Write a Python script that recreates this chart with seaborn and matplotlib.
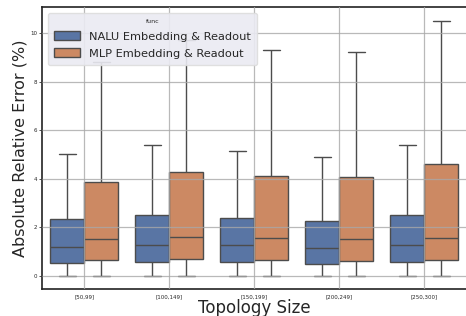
import numpy as np
import pandas as pd
import matplotlib
matplotlib.use("Agg")
import matplotlib.pyplot as plt
import seaborn as sns

categories = ["[50,99]", "[100,149]", "[150,199]", "[200,249]", "[250,300]"]
series = ["NALU Embedding & Readout", "MLP Embedding & Readout"]

# box statistics (percent)
nalu_lo = [0.0, 0.0, 0.0, 0.0, 0.0]
nalu_q1 = [0.53, 0.56, 0.55, 0.50, 0.55]
nalu_med = [1.20, 1.26, 1.25, 1.15, 1.25]
nalu_q3 = [2.33, 2.51, 2.40, 2.25, 2.50]
nalu_hi = [5.00, 5.40, 5.15, 4.90, 5.40]

mlp_lo = [0.0, 0.0, 0.0, 0.0, 0.0]
mlp_q1 = [0.65, 0.69, 0.65, 0.60, 0.65]
mlp_med = [1.51, 1.59, 1.55, 1.50, 1.56]
mlp_q3 = [3.88, 4.28, 4.10, 4.05, 4.60]
mlp_hi = [8.80, 9.70, 9.30, 9.20, 10.50]

rows = []
stats = {series[0]: (nalu_lo, nalu_q1, nalu_med, nalu_q3, nalu_hi),
         series[1]: (mlp_lo, mlp_q1, mlp_med, mlp_q3, mlp_hi)}
for name, (lo, q1, md, q3, hi) in stats.items():
    for i, cat in enumerate(categories):
        for v in (lo[i], q1[i], md[i], q3[i], hi[i]):
            rows.append({"Topology Size": cat, "func": name, "err": v})
df = pd.DataFrame(rows)

sns.set_theme(style="whitegrid")
plt.rcParams["font.family"] = ["DejaVu Sans"]

fig = plt.figure(figsize=(4.66, 3.16), dpi=100)
ax = fig.add_axes([0.09, 0.085, 0.912, 0.893])

sns.boxplot(data=df, x="Topology Size", y="err", hue="func", order=categories,
            hue_order=series, whis=(0, 100), showfliers=False, ax=ax,
            linewidth=1.0)

ax.set_ylim(-0.55, 11.07)
ax.set_yticks([0, 2, 4, 6, 8, 10])
ax.tick_params(axis="both", labelsize=4, length=2, width=0.6, pad=1.5)
ax.tick_params(axis="y", left=True, color="#333333")
ax.set_xlabel("Topology Size", fontsize=12, labelpad=0)
ax.set_ylabel("Absolute Relative Error (%)", fontsize=11.5, labelpad=2)
ax.set_axisbelow(False)
ax.grid(True, color="#a8a8a8", linewidth=0.9, alpha=0.8)
for s in ax.spines.values():
    s.set_color("#222222")
    s.set_linewidth(1.2)
    s.set_visible(True)

leg = ax.legend(loc="upper left", title="func", fontsize=8.2, title_fontsize=4.5,
                facecolor="#EAEAF2", edgecolor="#dddddd", framealpha=0.9,
                bbox_to_anchor=(0.0, 0.998), borderpad=0.55, labelspacing=0.6,
                handlelength=2.3, handleheight=0.8)
fig.savefig("out.png", dpi=100)
